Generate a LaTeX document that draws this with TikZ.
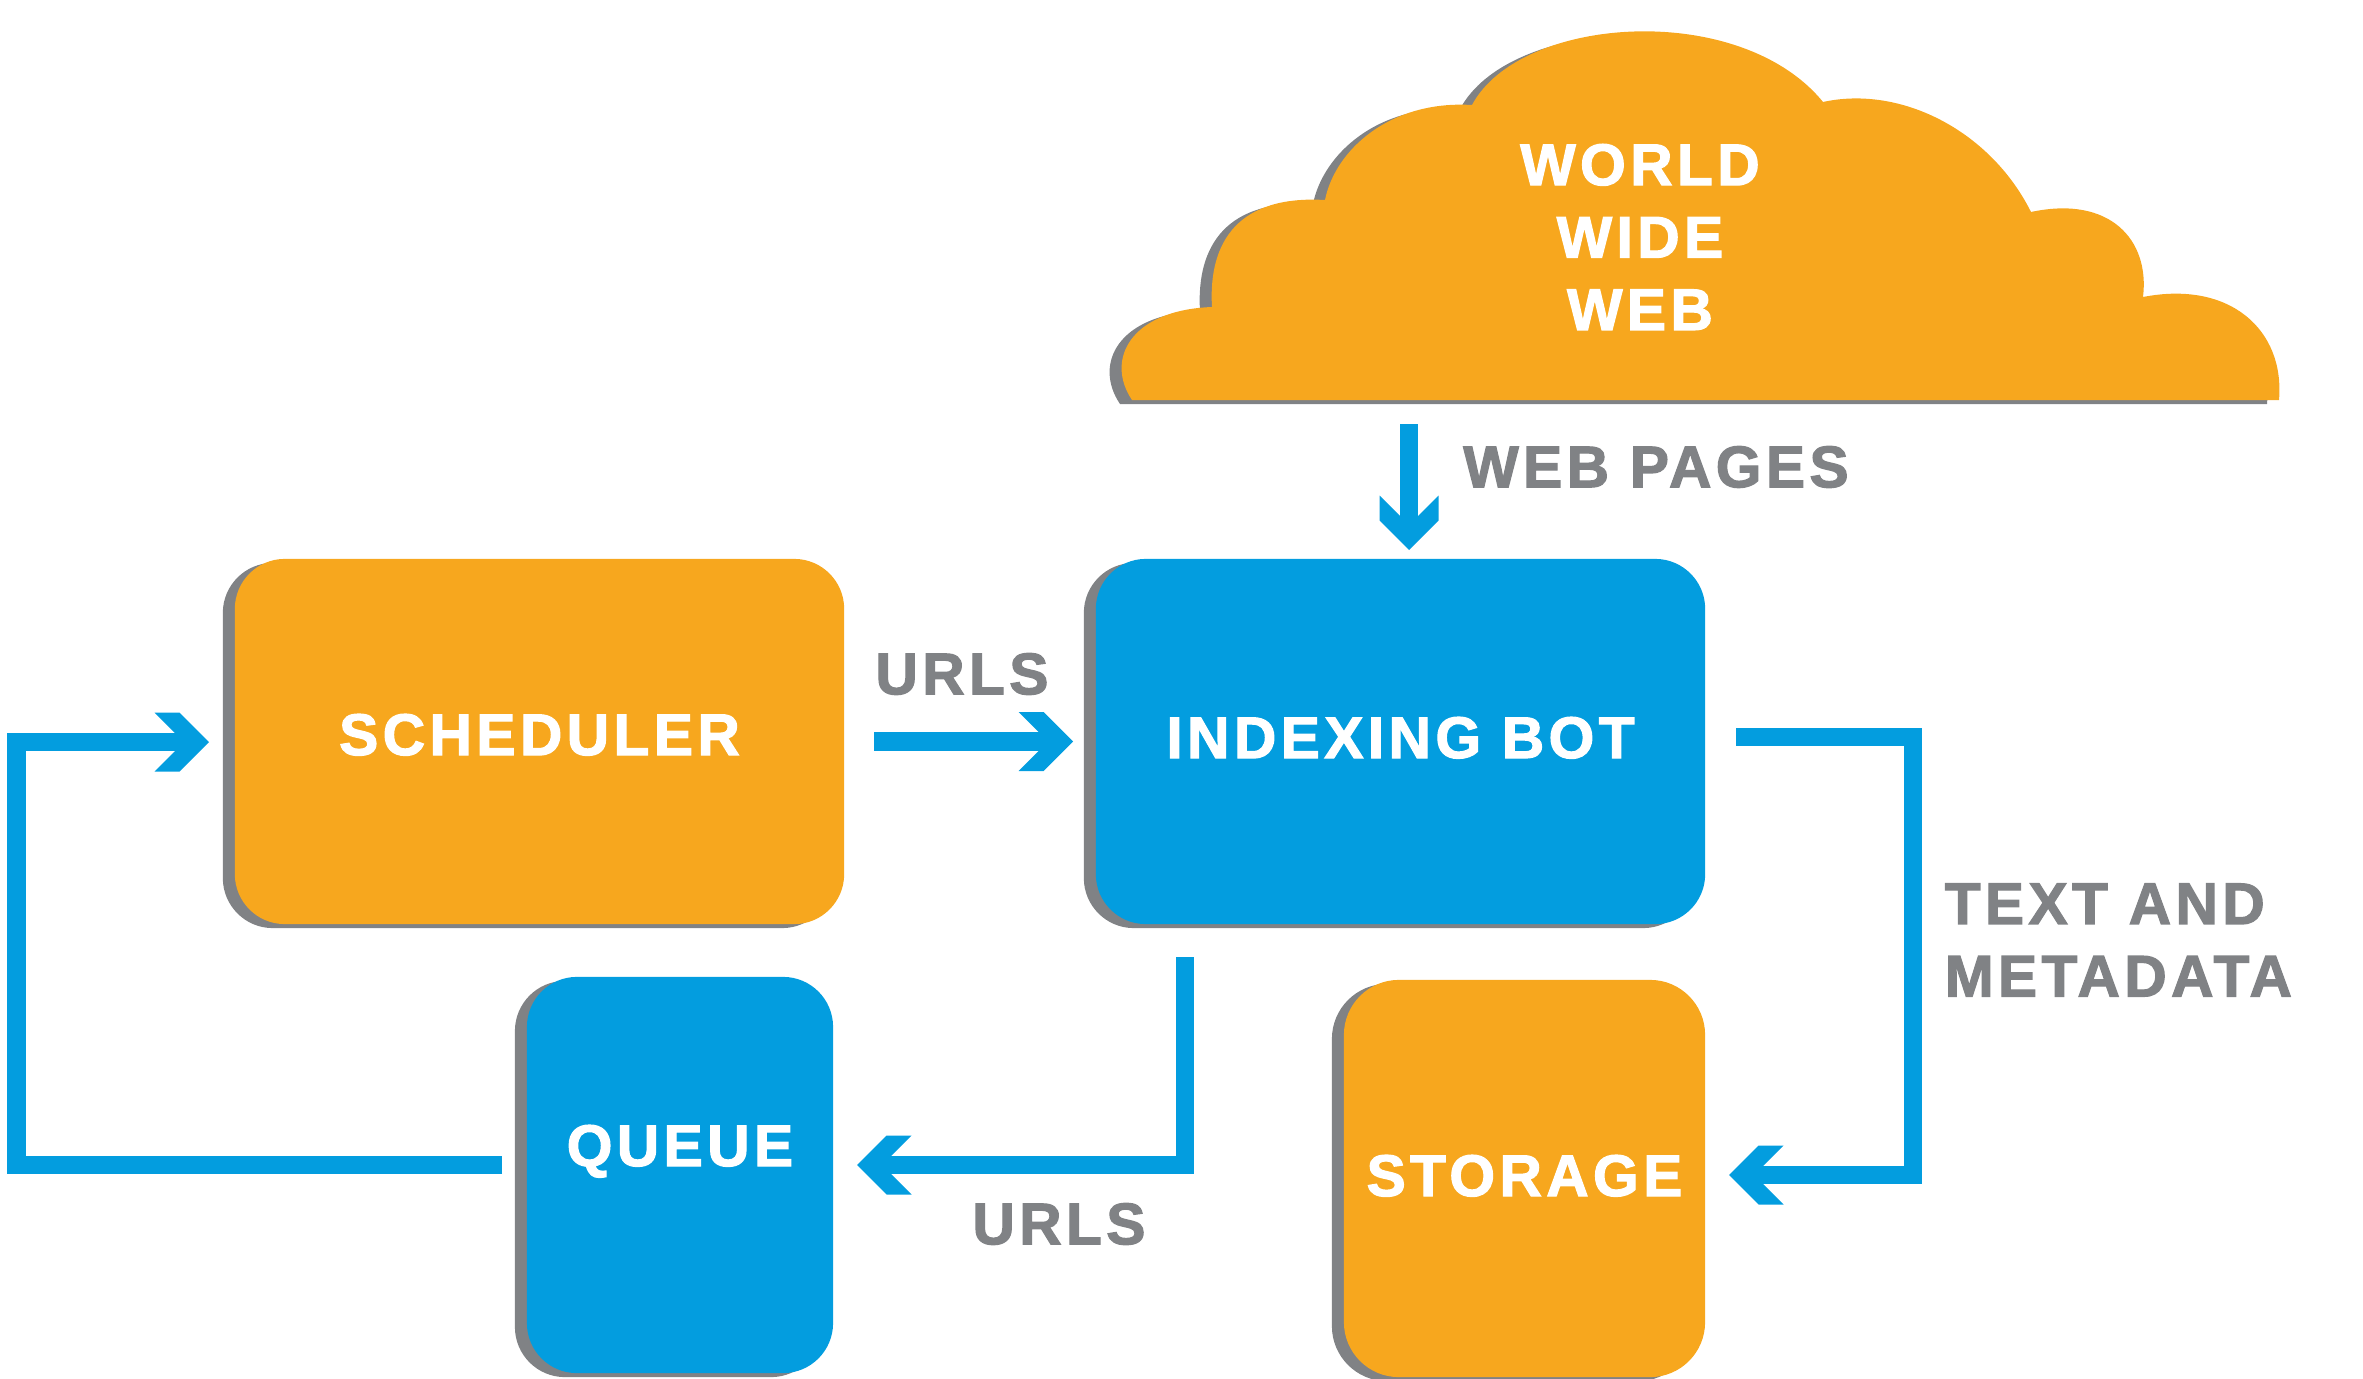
\documentclass[tikz,border=0pt]{standalone}
\usepackage{fontspec}
\setmainfont{Liberation Sans}
\newfontfamily\dfont{Liberation Sans}[LetterSpace=7.5,FakeBold=2]
\usetikzlibrary{shadows}
\definecolor{corange}{RGB}{247,167,30}
\definecolor{cblue}{RGB}{3,157,223}
\definecolor{cgrey}{RGB}{128,130,133}
\tikzset{
  chev/.pic={\fill[cblue] (0,0) -- (-29.5,29.5) -- (-54.5,29.5) -- (-25,0) -- (-54.5,-29.5) -- (-29.5,-29.5) -- cycle;},
  boxshadow/.style={general shadow={fill=cgrey, shadow xshift=-0.12cm, shadow yshift=-0.04cm}},
  box/.style={rectangle, rounded corners=0.5cm, inner sep=0pt, text=white,
    font={\dfont\bfseries\fontsize{16.7pt}{20.2pt}\selectfont}, text height=0.42cm, boxshadow},
  lbl/.style={inner sep=0pt, font={\dfont\bfseries\fontsize{16.7pt}{20.6pt}\selectfont}},
  flow/.style={draw=cblue, line width=0.18cm, line join=miter, line cap=butt, shorten >=0.15cm}
}
\begin{document}
\begin{tikzpicture}[x=0.01cm,y=-0.01cm]
\useasboundingbox (0,0) rectangle (2363,1379);
% cloud
\fill[corange, boxshadow] (1132,400) .. controls (1105,360) and (1130,310) .. (1212,307)
  .. controls (1208,240) and (1240,195) .. (1325,200)
  .. controls (1335,150) and (1390,100) .. (1472,105)
  .. controls (1520,15) and (1740,0) .. (1823,102)
  .. controls (1900,85) and (1990,130) .. (2031,212)
  .. controls (2110,195) and (2150,240) .. (2143,297)
  .. controls (2230,280) and (2285,330) .. (2279,400) -- cycle;
\node[lbl, text=white, align=center] (www) at (1640,237) {WORLD\\WIDE\\WEB};
% boxes
\node[box, fill=corange, minimum width=6.09cm, minimum height=3.65cm, text depth=0.15cm] (sched) at (539.5,741.5) {SCHEDULER};
\node[box, fill=cblue, minimum width=6.09cm, minimum height=3.65cm, text depth=0.09cm] (bot) at (1400.5,741.5) {INDEXING BOT};
\node[box, fill=cblue, minimum width=3.06cm, minimum height=3.96cm, text depth=0.6cm] (queue) at (680,1175) {QUEUE};
\node[box, fill=corange, rounded corners=0.55cm, minimum width=3.61cm, minimum height=3.97cm, text depth=0.07cm] (store) at (1524.5,1178.5) {STORAGE};
% labels
\node[lbl, text=cgrey] (wp) at (1656,467) {WEB PAGES};
\node[lbl, text=cgrey] (u1) at (962,674) {URLS};
\node[lbl, text=cgrey] (u2) at (1059,1224) {URLS};
\node[lbl, text=cgrey, anchor=west, align=left] (tm) at (1944,940) {TEXT AND\\METADATA};
% connector coordinates
\coordinate (w-s) at (1409,424);
\coordinate (w-t) at (1409,550);
\coordinate (a-s) at (874,741.5);
\coordinate (a-t) at (1073,741.5);
\coordinate (l-s) at (502,1165);
\coordinate (l-x) at (16.5,742);
\coordinate (l-t) at (209,742);
\coordinate (t-s) at (1736,737);
\coordinate (t-x) at (1912.5,1175);
\coordinate (t-t) at (1729,1175);
\coordinate (u-s) at (1184.5,957);
\coordinate (u-t) at (857,1165);
% connectors
\draw[flow] (w-s) -- (w-t);
\pic[rotate=-90] at (w-t) {chev};
\draw[flow] (a-s) -- (a-t);
\pic at (a-t) {chev};
\draw[flow] (l-s) -| (l-x) -- (l-t);
\pic at (l-t) {chev};
\draw[flow] (t-s) -| (t-x) -- (t-t);
\pic[rotate=180] at (t-t) {chev};
\draw[flow] (u-s) |- (u-t);
\pic[rotate=180] at (u-t) {chev};
\end{tikzpicture}
\end{document}
